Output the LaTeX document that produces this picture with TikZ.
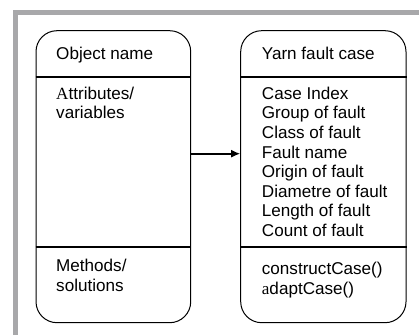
\documentclass[tikz,border=0pt]{standalone}
\usepackage{fontspec}
\setmainfont{Liberation Sans}
\newfontfamily\serifletter{Liberation Serif}
\usetikzlibrary{arrows.meta}
\definecolor{framegray}{RGB}{168,168,170}
\tikzset{
  umlbox/.style={draw=black, line width=1pt, rounded corners=21pt, minimum width=#1, minimum height=292pt, inner sep=0pt},
  divider/.style={draw=black, line width=2pt},
  txt/.style={anchor=base west, inner sep=0pt, font=\fontsize{17.1}{19.7}\selectfont},
  conn/.style={draw=black, line width=1.6pt, -{Latex[length=9pt,width=8pt]}}
}
\begin{document}
\begin{tikzpicture}[x=1pt,y=1pt]
\useasboundingbox (0,0) rectangle (419,335);
\fill[white] (0,0) rectangle (419,335);
% gray frame
\draw[framegray, line width=5pt] (15.6,0) -- (15.6,322.5) -- (419,322.5);
% boxes
\node[umlbox=154.7pt] (L) at (113.35,158.3) {};
\node[umlbox=165.3pt] (R) at (323.35,158.3) {};
% dividers
\coordinate (LtopY) at (0,258.3);
\coordinate (LbotY) at (0,88.5);
\draw[divider] (L.west |- LtopY) -- (L.east |- LtopY);
\draw[divider] (L.west |- LbotY) -- (L.east |- LbotY);
\draw[divider] (R.west |- LtopY) -- (R.east |- LtopY);
\draw[divider] (R.west |- LbotY) -- (R.east |- LbotY);
% arrow
\coordinate (arrY) at (0,181.3);
\draw[conn] (L.east |- arrY) -- (R.west |- arrY);
% left texts
\node[txt] (l1) at (56,275.7) {Object name};
\node[txt] (l2) at (56,235.7) {{\serifletter A}ttributes/};
\node[txt] (l3) at (56,216) {variables};
\node[txt] (l4) at (56,63.3) {Methods/};
\node[txt] (l5) at (56,43.3) {solutions};
% right texts
\node[txt] (r0) at (261.7,275.7) {Yarn fault case};
\foreach \t [count=\i from 0] in {Case Index,Group of fault,Class of fault,Fault name,Origin of fault,Diametre of fault,Length of fault,Count of fault}{
  \node[txt] (ra\i) at (261.7,235.7-19.6*\i) {\t};
}
\node[txt] (rm1) at (261.7,60.5) {constructCase()};
\node[txt] (rm2) at (261.7,40.5) {{\serifletter a}daptCase()};
\end{tikzpicture}
\end{document}
